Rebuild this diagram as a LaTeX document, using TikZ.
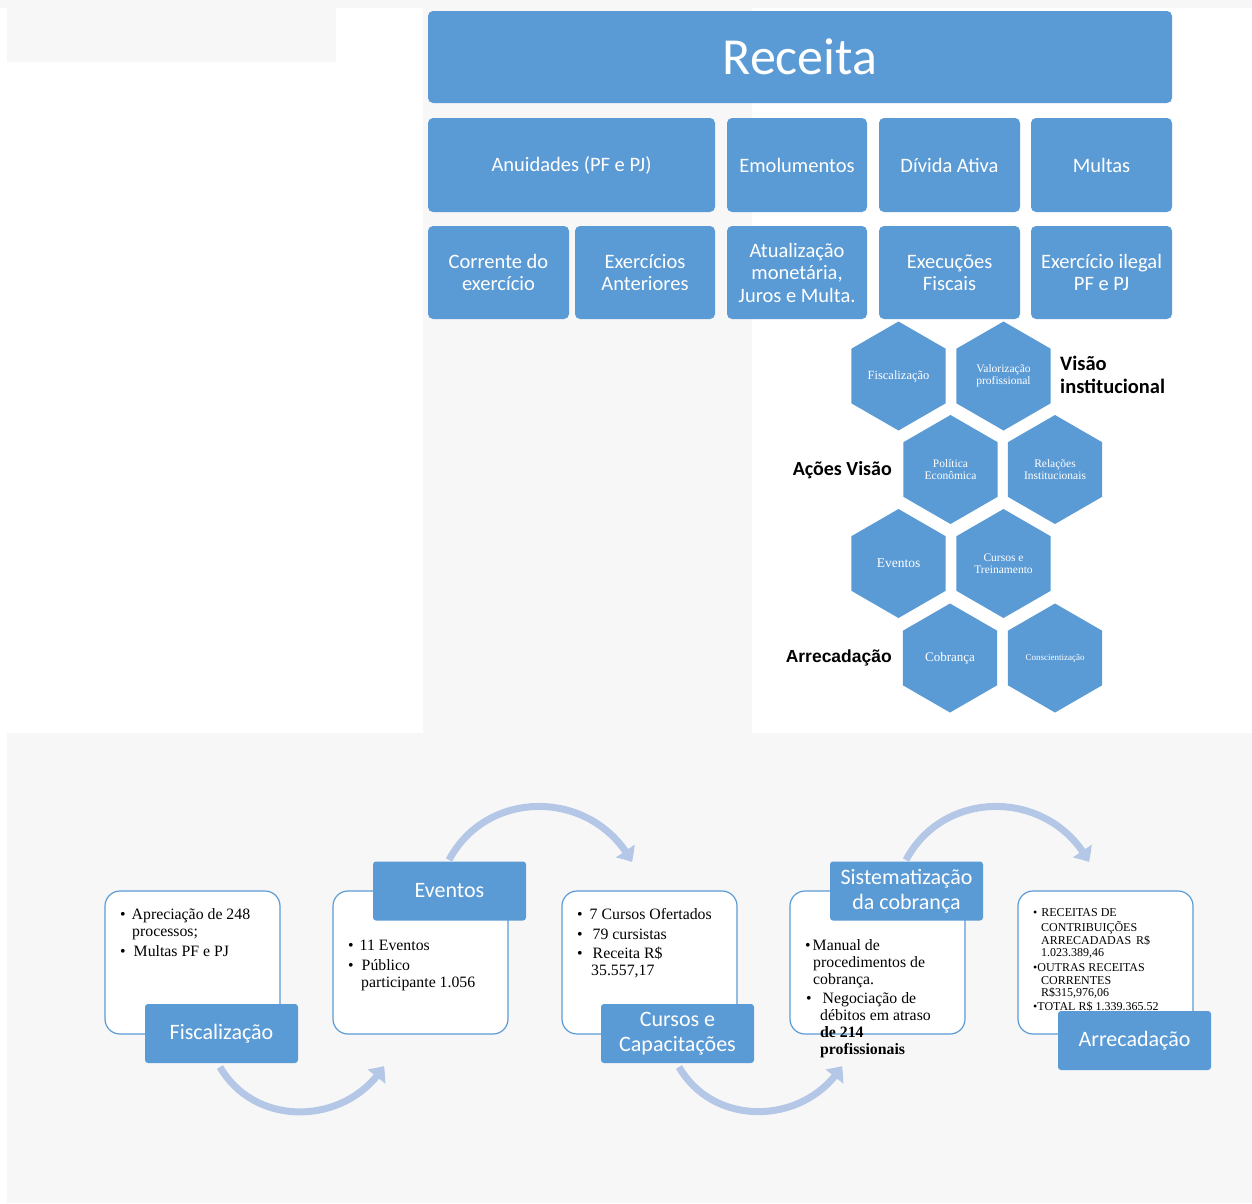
\documentclass[tikz,border=0pt]{standalone}
\usepackage{fontspec}
\setmainfont{Carlito}
\newfontfamily\tnr{Liberation Serif}
\newfontfamily\arl{Liberation Sans}
\usetikzlibrary{shapes.geometric,arrows.meta,bending}
\definecolor{cblue}{HTML}{5B9BD5}
\definecolor{cgray}{HTML}{F7F7F7}
\definecolor{carrow}{HTML}{B4C7E7}
\begin{document}
\begin{tikzpicture}[x=1pt,y=1pt,
  topbox/.style={fill=cblue, rounded corners=5pt, text=white, align=center, inner sep=0pt,
    font=\fontsize{20.5}{22.5}\selectfont},
  hexa/.style={regular polygon, regular polygon sides=6, shape border rotate=30, fill=cblue,
    minimum size=109pt, inner sep=0pt, text=white, align=center,
    font=\tnr\fontsize{11.5}{12}\selectfont},
  sidelab/.style={font=\bfseries\fontsize{20.5}{23}\selectfont, align=left, inner sep=0pt},
  whitebox/.style={draw=cblue, line width=1.2pt, fill=white, rounded corners=15pt,
    minimum width=175pt, minimum height=143pt, inner sep=0pt},
  labbox/.style={fill=cblue, rounded corners=3pt, text=white, align=center, inner sep=0pt,
    minimum width=153pt, minimum height=59pt, font=\fontsize{22}{25}\selectfont},
  bul/.style={anchor=north west, inner sep=0pt, align=left, font=\tnr\fontsize{15.8}{17}\selectfont},
  bulsmall/.style={anchor=north west, inner sep=0pt, align=left, font=\tnr\fontsize{12}{12.5}\selectfont},
  flow/.style={draw=carrow, line width=7pt, -{Triangle[width=22pt,length=13pt,bend]}}
]
\useasboundingbox (0,0) rectangle (1252,-1203);
\fill[white] (0,0) rectangle (1252,-1203);
\fill[cgray] (0,0) rectangle (1252,-8);
\fill[cgray] (7,-8) rectangle (336,-62);
\fill[cgray] (423,-8) rectangle (752,-733);
\fill[cgray] (7,-733) rectangle (1252,-1203);

% top boxes
\node[topbox, minimum width=744pt, minimum height=92pt, font=\fontsize{52}{54}\selectfont] (receita) at (800,-57) {Receita};
\node[topbox, minimum width=287pt, minimum height=94pt] (anu) at (571.5,-165) {Anuidades (PF e PJ)};
\node[topbox, minimum width=140pt, minimum height=94pt] (emo) at (797,-165) {Emolumentos};
\node[topbox, minimum width=141pt, minimum height=94pt] (div) at (949.5,-165) {Dívida Ativa};
\node[topbox, minimum width=141pt, minimum height=94pt] (mul) at (1101.5,-165) {Multas};
\node[topbox, minimum width=141pt, minimum height=93pt] (cor) at (498.5,-272.5) {Corrente do\\exercício};
\node[topbox, minimum width=140pt, minimum height=93pt] (exa) at (645,-272.5) {Exercícios\\Anteriores};
\node[topbox, minimum width=140pt, minimum height=93pt] (atu) at (797,-272.5) {Atualização\\monetária,\\Juros e Multa.};
\node[topbox, minimum width=141pt, minimum height=93pt] (exf) at (949.5,-272.5) {Execuções\\Fiscais};
\node[topbox, minimum width=141pt, minimum height=93pt] (exi) at (1101.5,-272.5) {Exercício ilegal\\PF e PJ};

% hexagons
\node[hexa, font=\tnr\fontsize{12.5}{13}\selectfont] (h1) at (898.5,-376) {Fiscalização};
\node[hexa] (h2) at (1003.5,-376) {Valorização\\profissional};
\node[hexa] (h3) at (950.5,-469.5) {Política\\Econômica};
\node[hexa] (h4) at (1055,-469.5) {Relações\\Institucionais};
\node[hexa, font=\tnr\fontsize{13.5}{14}\selectfont] (h5) at (898.5,-563.5) {Eventos};
\node[hexa] (h6) at (1003.5,-563.5) {Cursos e\\Treinamento};
\node[hexa, font=\tnr\fontsize{13}{14}\selectfont] (h7) at (950,-658) {Cobrança};
\node[hexa, font=\tnr\fontsize{9}{10}\selectfont] (h8) at (1055,-658) {Conscientização};

\node[sidelab, anchor=west] (lvis) at (1060,-375) {Visão\\institucional};
\node[sidelab, anchor=east, font=\bfseries\fontsize{20}{22}\selectfont] (lacv) at (892,-470) {Ações Visão};
\node[sidelab, anchor=east, font=\arl\bfseries\fontsize{17.5}{20}\selectfont] (larr) at (892,-658) {Arrecadação};

% bottom process
\node[whitebox] (wb1) at (192.5,-962.5) {};
\node[whitebox] (wb2) at (420.5,-962.5) {};
\node[whitebox] (wb3) at (649.5,-962.5) {};
\node[whitebox] (wb4) at (877.5,-962.5) {};
\node[whitebox] (wb5) at (1105.5,-962.5) {};

\node[bul] (t1) at (120,-907) {\strut\textbullet\hspace{6pt}Apreciação de 248\\\hspace{12pt}processos;\\[3pt]\textbullet\hspace{8pt}Multas PF e PJ};
\node[bul] (t2) at (348,-938) {\strut\textbullet\hspace{6pt}11 Eventos\\[3pt]\textbullet\hspace{8pt}Público\\\hspace{13pt}participante 1.056};
\node[bul] (t3) at (577,-907) {\strut\textbullet\hspace{7pt}7 Cursos Ofertados\\[3pt]\textbullet\hspace{10pt}79 cursistas\\[2pt]\textbullet\hspace{10pt}Receita R\$\\\hspace{14pt}35.557,17};
\node[bul] (t4) at (805,-938) {\strut\textbullet\hspace{2pt}Manual de\\\hspace{8pt}procedimentos de\\\hspace{8pt}cobrança.\\[2pt]\hspace{1pt}\textbullet\hspace{11pt}Negociação de\\\hspace{15pt}débitos em atraso\\\hspace{15pt}\textbf{de 214}\\\hspace{15pt}\textbf{profissionais}};
\node[bulsmall] (t5) at (1033,-908) {\strut\textbullet\hspace{4pt}RECEITAS DE\\\hspace{8pt}CONTRIBUIÇÕES\\\hspace{8pt}ARRECADADAS\hspace{5pt}R\$\\\hspace{8pt}1.023.389,46\\[2.5pt]\textbullet OUTRAS RECEITAS\\\hspace{8pt}CORRENTES\\\hspace{8pt}R\$315,976,06\\[1.5pt]\textbullet TOTAL R\$ 1.339.365.52};

\node[labbox] (lb1) at (221.5,-1033.5) {Fiscalização};
\node[labbox] (lb2) at (449.5,-891) {Eventos};
\node[labbox] (lb3) at (677.5,-1033.5) {Cursos e\\Capacitações};
\node[labbox] (lb4) at (906.5,-891) {Sistematização\\da cobrança};
\node[labbox] (lb5) at (1134.5,-1040.5) {Arrecadação};

% flow arrows
\coordinate (a1s) at (220,-1067);
\coordinate (a1e) at (384,-1066);
\coordinate (a2s) at (449,-860);
\coordinate (a2e) at (632,-862);
\coordinate (a3s) at (679,-1067);
\coordinate (a3e) at (842,-1066);
\coordinate (a4s) at (906,-860);
\coordinate (a4e) at (1089,-862);
\draw[flow] (a1s) to[out=-60,in=-122,looseness=1.1] (a1e);
\draw[flow] (a2s) to[out=62,in=118,looseness=1.15] (a2e);
\draw[flow] (a3s) to[out=-60,in=-122,looseness=1.1] (a3e);
\draw[flow] (a4s) to[out=62,in=118,looseness=1.15] (a4e);
\end{tikzpicture}
\end{document}
